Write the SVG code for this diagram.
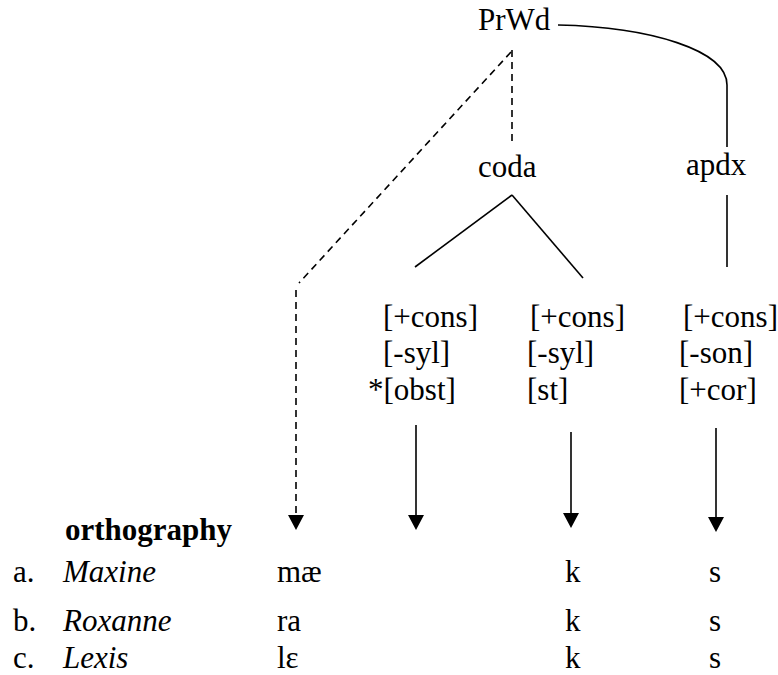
<svg xmlns="http://www.w3.org/2000/svg" width="778" height="675" viewBox="0 0 778 675">
<defs>
<marker id="ah" markerWidth="16" markerHeight="15" refX="8" refY="15" orient="auto-start-reverse" markerUnits="userSpaceOnUse" viewBox="0 0 16 15">
<path d="M0,0 L16,0 L8,15 Z" fill="#000"/>
</marker>
<style>
text{font-family:"Liberation Serif","Times New Roman",serif;font-size:31px;fill:#000}
.b{font-weight:bold}
.i{font-style:italic}
.ln{stroke:#000;stroke-width:1.6;fill:none}
.d{stroke-dasharray:7,5}
</style>
</defs>
<rect width="778" height="675" fill="#fff"/>
<g id="connectors">
<path class="ln" d="M558,25 C650,27 727,50 727,85 L727,147"/>
<line class="ln" x1="727" y1="195" x2="727" y2="267"/>
<line class="ln d" x1="512" y1="50" x2="512" y2="142"/>
<line class="ln d" x1="511" y1="52" x2="299" y2="283"/>
<line class="ln d" x1="296" y1="290" x2="296" y2="516"/>
<path d="M288,515 L304,515 L296,530 Z" fill="#000"/>
<line class="ln" x1="512" y1="195" x2="415" y2="267"/>
<line class="ln" x1="512" y1="195" x2="583" y2="278"/>
<line class="ln" x1="416" y1="425" x2="416" y2="516"/>
<path d="M408,515 L424,515 L416,530 Z" fill="#000"/>
<line class="ln" x1="571" y1="432" x2="571" y2="514"/>
<path d="M563,513 L579,513 L571,528 Z" fill="#000"/>
<line class="ln" x1="716" y1="428" x2="716" y2="518"/>
<path d="M708,517 L724,517 L716,532 Z" fill="#000"/>
</g>
<g id="prwd"><text x="478" y="30">PrWd</text></g>
<g id="coda"><text x="478" y="177">coda</text></g>
<g id="apdx"><text x="686" y="175">apdx</text></g>
<g id="seg1">
<text x="383" y="327">[+cons]</text>
<text x="383" y="363">[-syl]</text>
<text x="368" y="400">*[obst]</text>
</g>
<g id="seg2">
<text x="530" y="327">[+cons]</text>
<text x="527" y="363">[-syl]</text>
<text x="527" y="400">[st]</text>
</g>
<g id="seg3">
<text x="683" y="327">[+cons]</text>
<text x="679" y="363">[-son]</text>
<text x="679" y="400">[+cor]</text>
</g>
<g id="table">
<text class="b" x="65" y="540">orthography</text>
<text x="13" y="582">a.</text>
<text class="i" x="63" y="582">Maxine</text>
<text x="277" y="582">mæ</text>
<text x="565" y="582">k</text>
<text x="709" y="582">s</text>
<text x="13" y="631">b.</text>
<text class="i" x="63" y="631">Roxanne</text>
<text x="277" y="631">ra</text>
<text x="565" y="631">k</text>
<text x="709" y="631">s</text>
<text x="13" y="668">c.</text>
<text class="i" x="63" y="668">Lexis</text>
<text x="277" y="668">lɛ</text>
<text x="565" y="668">k</text>
<text x="709" y="668">s</text>
</g>
</svg>
